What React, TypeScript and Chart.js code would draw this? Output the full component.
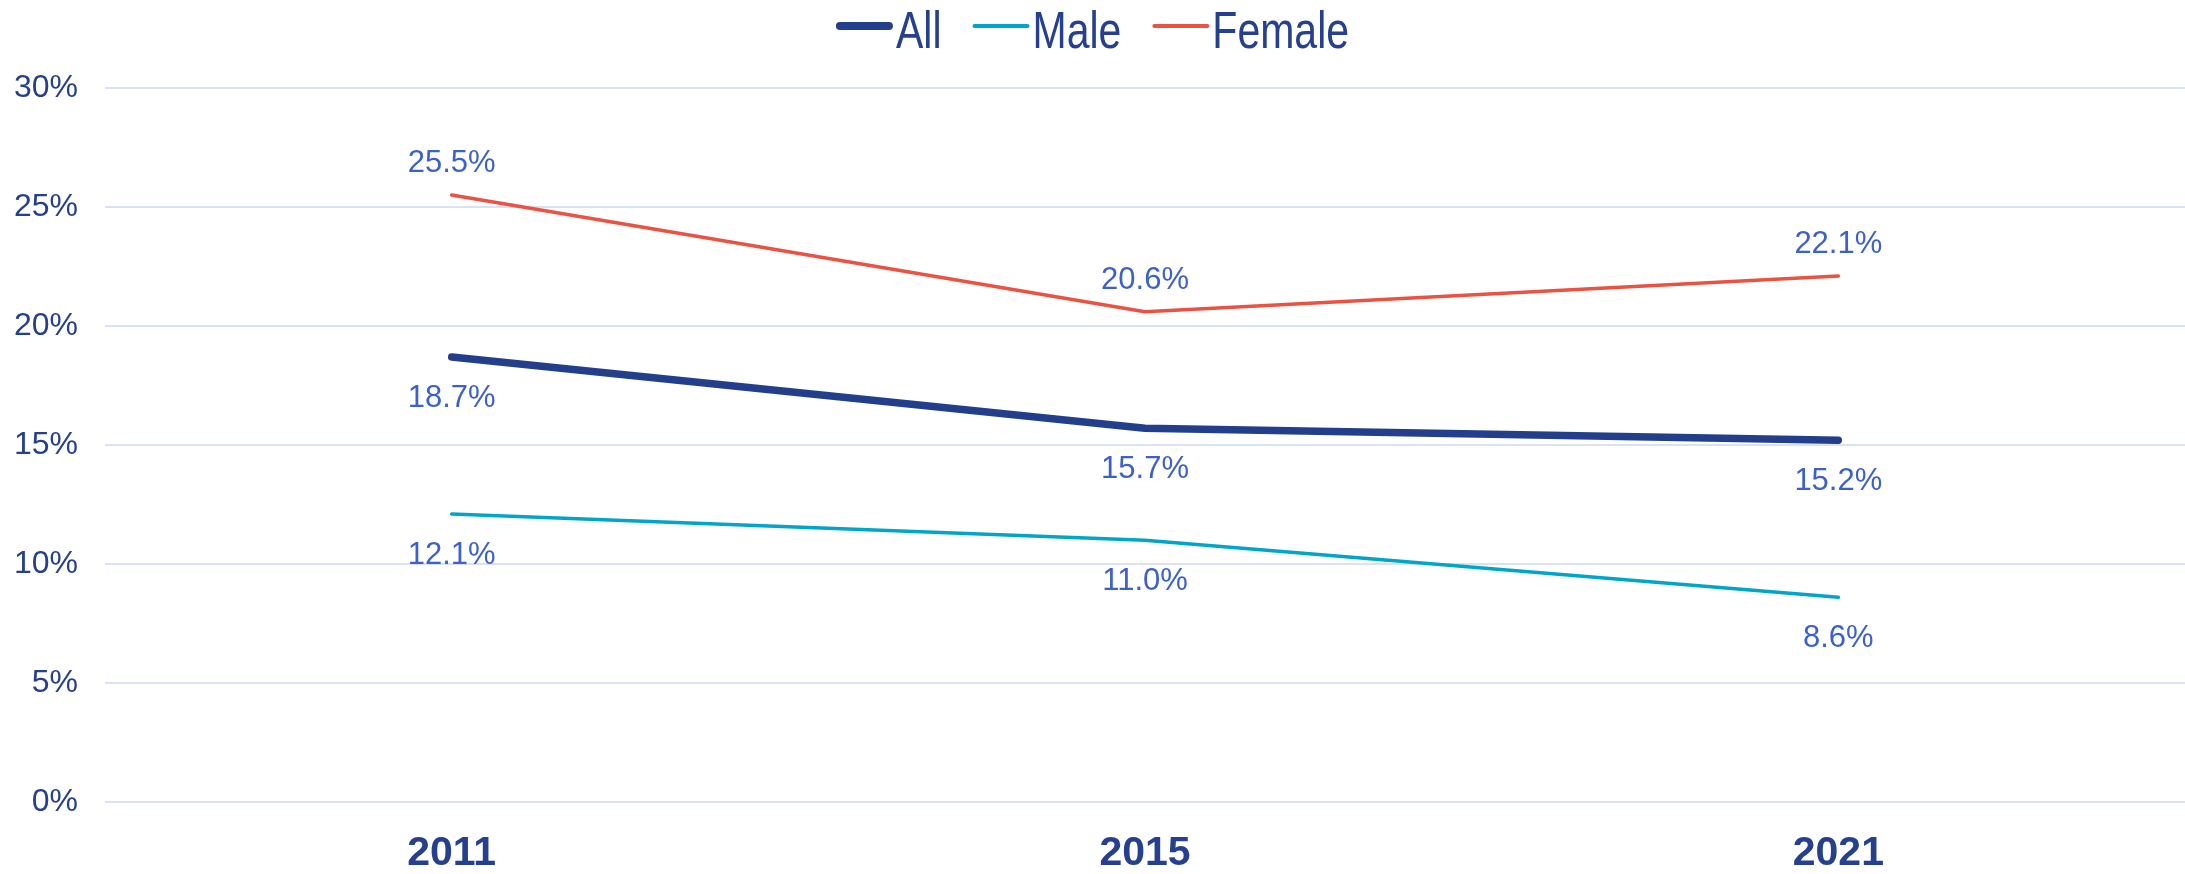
import React, { useEffect, useRef } from 'react';
import { Chart, registerables } from 'chart.js';

Chart.register(...registerables);

const years = ['2011', '2015', '2021'];
const allValues = [18.7, 15.7, 15.2];
const maleValues = [12.1, 11.0, 8.6];
const femaleValues = [25.5, 20.6, 22.1];
const seriesNames = ['All', 'Male', 'Female'];
const labelSides = ['below', 'below', 'above'];
const yMin = 0;
const yMax = 30;
const yStep = 5;

const FONT = '"Liberation Sans", Arial, sans-serif';
const NAVY = '#233E8B';
const MALE = '#00A6CA';
const FEMALE = '#EC5242';
const LABEL_BLUE = '#3D60CF';
const TICK_TEXT = '#25408F';
const GRID = '#D9E1F2';
const lineWidths = [7.5, 3.5, 3.5];
const colors = [NAVY, MALE, FEMALE];

const dataLabelPlugin = {
  id: 'dataLabels',
  afterDatasetsDraw(chart: any) {
    const ctx = chart.ctx;
    ctx.save();
    ctx.font = `31px ${FONT}`;
    ctx.fillStyle = LABEL_BLUE;
    ctx.textAlign = 'center';
    ctx.textBaseline = 'alphabetic';
    chart.data.datasets.forEach((ds: any, i: number) => {
      const meta = chart.getDatasetMeta(i);
      meta.data.forEach((pt: any, j: number) => {
        const txt = `${Number(ds.data[j]).toFixed(1)}%`;
        const y = labelSides[i] === 'above' ? pt.y - 23 : pt.y + 50;
        ctx.fillText(txt, pt.x, y);
      });
    });
    ctx.restore();
  },
};

const legendPlugin = {
  id: 'customLegend',
  afterDraw(chart: any) {
    const ctx = chart.ctx;
    ctx.save();
    ctx.font = `41px ${FONT}`;
    const lineLen = 57;
    const gap = 3;
    const itemGap = 31;
    const widths = seriesNames.map((n) => ctx.measureText(n).width);
    const total = widths.reduce((a, b) => a + b, 0) + seriesNames.length * (lineLen + gap) + itemGap * (seriesNames.length - 1);
    let x = chart.width / 2 - total / 2;
    const lineY = 26;
    const baseY = 48;
    const sy = 1.25;
    seriesNames.forEach((name, i) => {
      ctx.strokeStyle = colors[i];
      ctx.lineWidth = i === 0 ? 8 : 4;
      ctx.lineCap = 'round';
      ctx.beginPath();
      const half = ctx.lineWidth / 2;
      ctx.moveTo(x + half, lineY);
      ctx.lineTo(x + lineLen - half, lineY);
      ctx.stroke();
      x += lineLen + gap;
      ctx.save();
      ctx.translate(x, baseY);
      ctx.scale(1, sy);
      ctx.fillStyle = TICK_TEXT;
      ctx.textAlign = 'left';
      ctx.textBaseline = 'alphabetic';
      ctx.fillText(name, 0, 0);
      ctx.restore();
      x += widths[i] + itemGap;
    });
    ctx.restore();
  },
};

export default function App() {
  const canvasRef = useRef<HTMLCanvasElement | null>(null);

  useEffect(() => {
    const canvas = canvasRef.current;
    if (!canvas) return;
    const seriesData = [allValues, maleValues, femaleValues];
    const chart = new Chart(canvas, {
      type: 'line',
      data: {
        labels: years,
        datasets: seriesNames.map((name, i) => ({
          label: name,
          data: seriesData[i],
          borderColor: colors[i],
          backgroundColor: colors[i],
          borderWidth: lineWidths[i],
          borderCapStyle: 'round',
          borderJoinStyle: 'round',
          pointRadius: 0,
          pointHoverRadius: 0,
          tension: 0,
          fill: false,
        })),
      },
      options: {
        responsive: false,
        maintainAspectRatio: false,
        animation: false,
        layout: { padding: { top: 88, left: 0, right: 0, bottom: 0 } },
        plugins: {
          legend: { display: false },
          tooltip: { enabled: false },
          title: { display: false },
        },
        scales: {
          x: {
            type: 'category',
            offset: true,
            grid: { display: false, drawTicks: false },
            border: { display: false },
            ticks: {
              color: TICK_TEXT,
              font: { family: FONT, size: 41, weight: 'bold' },
              padding: 27,
              maxRotation: 0,
              autoSkip: false,
            },
            afterFit(scale: any) {
              scale.height = 72;
            },
          },
          y: {
            min: yMin,
            max: yMax,
            grid: { color: GRID, lineWidth: 2, drawTicks: false },
            border: { display: false },
            ticks: {
              stepSize: yStep,
              color: TICK_TEXT,
              font: { family: FONT, size: 32 },
              padding: 27,
              callback: (v: any) => `${v}%`,
            },
            afterFit(scale: any) {
              scale.width = 105;
            },
          },
        },
      },
      plugins: [dataLabelPlugin, legendPlugin],
    } as any);
    return () => chart.destroy();
  }, []);

  return (
    <div style={{ position: 'fixed', left: 0, top: 0, width: 2185, height: 874, background: '#fff', overflow: 'hidden' }}>
      <canvas ref={canvasRef} width={2185} height={874} style={{ display: 'block' }} />
    </div>
  );
}
